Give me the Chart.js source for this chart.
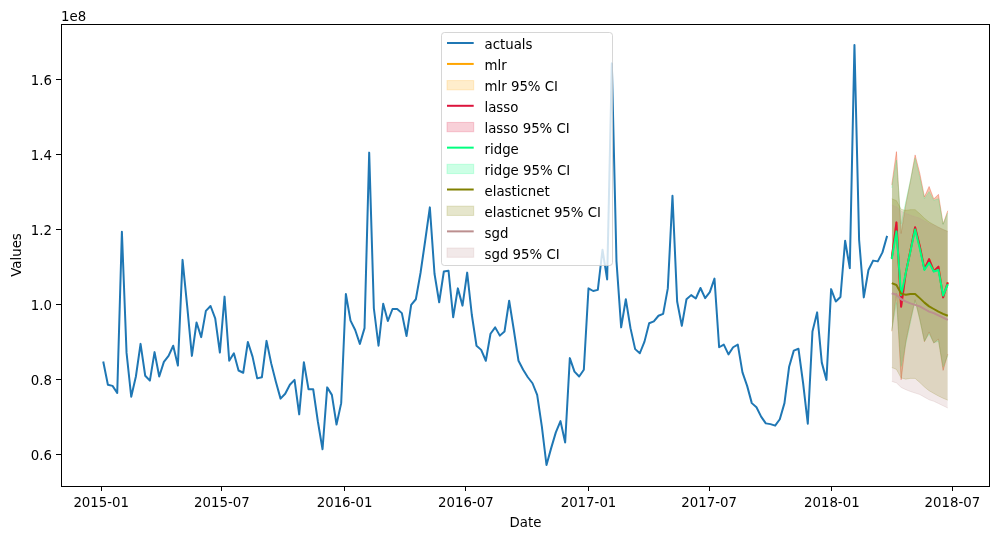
<!DOCTYPE html>
<html><head><meta charset="utf-8">
<script src="https://cdn.jsdelivr.net/npm/chart.js@4.4.1/dist/chart.umd.min.js"></script>
<style>html,body{margin:0;padding:0;background:#fff;}canvas{display:block;}</style>
</head><body>
<canvas id="c" width="1001" height="540"></canvas>
<script>
// ---- data (values in units of 1e8) ----
const actualStart = '2015-01-04';
const forecastStart = '2018-04-01';
const actuals = [
0.849, 0.787, 0.784, 0.765, 1.195, 0.872, 0.755, 0.809, 0.896, 0.811,
0.798, 0.874, 0.809, 0.848, 0.864, 0.891, 0.838, 1.120, 0.996, 0.864,
0.953, 0.914, 0.984, 0.997, 0.964, 0.873, 1.022, 0.851, 0.871, 0.825,
0.819, 0.901, 0.862, 0.804, 0.807, 0.904, 0.844, 0.795, 0.750, 0.763,
0.787, 0.800, 0.708, 0.847, 0.775, 0.775, 0.689, 0.615, 0.780, 0.760,
0.681, 0.738, 1.029, 0.958, 0.933, 0.896, 0.938, 1.406, 0.991, 0.891,
1.003, 0.957, 0.989, 0.989, 0.978, 0.917, 1.000, 1.015, 1.085, 1.171,
1.260, 1.083, 1.007, 1.089, 1.091, 0.967, 1.044, 0.998, 1.086, 0.973,
0.891, 0.880, 0.851, 0.923, 0.940, 0.918, 0.929, 1.011, 0.933, 0.851,
0.827, 0.807, 0.791, 0.760, 0.676, 0.573, 0.618, 0.660, 0.690, 0.633,
0.858, 0.822, 0.809, 0.827, 1.044, 1.037, 1.040, 1.147, 1.068, 1.644,
1.116, 0.940, 1.015, 0.938, 0.882, 0.871, 0.902, 0.951, 0.956, 0.971,
0.976, 1.044, 1.291, 1.009, 0.944, 1.015, 1.026, 1.017, 1.045, 1.018,
1.034, 1.070, 0.887, 0.894, 0.868, 0.887, 0.894, 0.820, 0.784, 0.738,
0.727, 0.702, 0.684, 0.682, 0.678, 0.695, 0.738, 0.835, 0.878, 0.883,
0.791, 0.683, 0.929, 0.980, 0.846, 0.800, 1.042, 1.009, 1.021, 1.171,
1.098, 1.693, 1.173, 1.020, 1.093, 1.118, 1.116, 1.140, 1.184
];
const mlr        = [1.124, 1.219, 0.996, 1.085, 1.145, 1.206, 1.156, 1.095, 1.121, 1.091, 1.101, 1.021, 1.060];
const mlrLower   = [0.929, 1.030, 0.801, 0.902, 0.960, 1.013, 0.962, 0.902, 0.927, 0.899, 0.908, 0.826, 0.869];
const mlrUpper   = [1.319, 1.408, 1.191, 1.268, 1.330, 1.399, 1.350, 1.288, 1.315, 1.283, 1.294, 1.216, 1.251];
const lasso      = [1.125, 1.220, 0.995, 1.085, 1.145, 1.207, 1.157, 1.095, 1.122, 1.090, 1.102, 1.020, 1.060];
const lassoLower = [0.930, 1.031, 0.800, 0.902, 0.960, 1.014, 0.963, 0.902, 0.928, 0.898, 0.909, 0.825, 0.869];
const lassoUpper = [1.320, 1.409, 1.190, 1.268, 1.330, 1.400, 1.351, 1.288, 1.316, 1.282, 1.295, 1.215, 1.251];
const ridge      = [1.122, 1.196, 1.026, 1.085, 1.143, 1.201, 1.150, 1.093, 1.112, 1.089, 1.093, 1.025, 1.055];
const ridgeLower = [0.932, 1.006, 0.836, 0.895, 0.953, 1.011, 0.960, 0.903, 0.922, 0.899, 0.903, 0.835, 0.865];
const ridgeUpper = [1.312, 1.386, 1.216, 1.275, 1.333, 1.391, 1.340, 1.283, 1.302, 1.279, 1.283, 1.215, 1.245];
const elasticnet      = [1.058, 1.053, 1.030, 1.027, 1.029, 1.029, 1.018, 1.006, 0.996, 0.989, 0.982, 0.976, 0.971];
const elasticnetLower = [0.833, 0.828, 0.805, 0.802, 0.804, 0.804, 0.793, 0.781, 0.771, 0.764, 0.757, 0.751, 0.746];
const elasticnetUpper = [1.283, 1.278, 1.255, 1.252, 1.254, 1.254, 1.243, 1.231, 1.221, 1.214, 1.207, 1.201, 1.196];
const sgd      = [1.031, 1.027, 1.015, 1.009, 1.004, 1.000, 0.996, 0.989, 0.982, 0.978, 0.972, 0.966, 0.960];
const sgdLower = [0.796, 0.792, 0.780, 0.774, 0.769, 0.765, 0.761, 0.754, 0.747, 0.743, 0.737, 0.731, 0.725];
const sgdUpper = [1.266, 1.262, 1.250, 1.244, 1.239, 1.235, 1.231, 1.224, 1.217, 1.213, 1.207, 1.201, 1.195];

const xTickLabels = ['2015-01', '2015-07', '2016-01', '2016-07', '2017-01', '2017-07', '2018-01', '2018-07'];
const yTickValues = [0.6, 0.8, 1.0, 1.2, 1.4, 1.6];
const yOffsetLabel = '1e8';
const xTitle = 'Date';
const yTitle = 'Values';

// ---- helpers ----
const DAY = 86400000;
const ORIGIN = Date.UTC(2015, 0, 1);
function dayOf(str) { const p = str.split('-').map(Number); return (Date.UTC(p[0], p[1] - 1, p[2] || 1) - ORIGIN) / DAY; }
function weekly(start, n) { const d0 = dayOf(start); return Array.from({length: n}, (_, i) => d0 + 7 * i); }
const actualX = weekly(actualStart, actuals.length);
const fcX = weekly(forecastStart, mlr.length);
const pts = (xs, ys) => ys.map((v, i) => ({x: xs[i], y: v}));
const rgba = (c, a) => `rgba(${c[0]},${c[1]},${c[2]},${a})`;
const xTickDays = xTickLabels.map(dayOf);

const models = [
  {name: 'mlr', color: [255, 165, 0], mean: mlr, lo: mlrLower, hi: mlrUpper},
  {name: 'lasso', color: [220, 20, 60], mean: lasso, lo: lassoLower, hi: lassoUpper},
  {name: 'ridge', color: [0, 255, 127], mean: ridge, lo: ridgeLower, hi: ridgeUpper},
  {name: 'elasticnet', color: [128, 128, 0], mean: elasticnet, lo: elasticnetLower, hi: elasticnetUpper},
  {name: 'sgd', color: [188, 143, 143], mean: sgd, lo: sgdLower, hi: sgdUpper}
];

// Chart.js draws higher "order" first: CI bands first (mlr bottom .. sgd top), then lines.
const datasets = [{
  label: 'actuals', data: pts(actualX, actuals),
  borderColor: '#1f77b4', borderWidth: 2, pointRadius: 0, tension: 0, fill: false, order: 10
}];
const legendItems = [{label: 'actuals', type: 'line', color: '#1f77b4'}];
models.forEach((m, k) => {
  datasets.push({
    label: m.name, data: pts(fcX, m.mean), borderColor: rgba(m.color, 1), borderWidth: 2,
    pointRadius: 0, tension: 0, fill: false, order: 9 - k
  });
  const upIdx = datasets.length;
  datasets.push({
    label: m.name + ' upper', data: pts(fcX, m.hi), borderColor: rgba(m.color, 0.2), borderWidth: 1,
    pointRadius: 0, tension: 0, fill: false, order: 50 - k
  });
  datasets.push({
    label: m.name + ' 95% CI', data: pts(fcX, m.lo), borderColor: rgba(m.color, 0.2), borderWidth: 1,
    backgroundColor: rgba(m.color, 0.2), pointRadius: 0, tension: 0, fill: {target: upIdx}, order: 50 - k
  });
  legendItems.push({label: m.name, type: 'line', color: rgba(m.color, 1)});
  legendItems.push({label: m.name + ' 95% CI', type: 'patch', color: rgba(m.color, 0.2)});
});

// autoscale with 5% margins like matplotlib
const allX = actualX.concat(fcX);
const allY = actuals.concat(...models.map(m => m.lo), ...models.map(m => m.hi), ...models.map(m => m.mean));
const xMin0 = Math.min(...allX), xMax0 = Math.max(...allX);
const yMin0 = Math.min(...allY), yMax0 = Math.max(...allY);
const xPad = (xMax0 - xMin0) * 0.05, yPad = (yMax0 - yMin0) * 0.05;

const FONT = {family: '"DejaVu Sans", sans-serif', size: 13.33, lineHeight: 1.2};
const FONTSTR = '13.33px "DejaVu Sans", sans-serif';

const decor = {
  id: 'decor',
  afterDraw(chart) {
    const ctx = chart.ctx, a = chart.chartArea;
    ctx.save();
    // spines
    ctx.strokeStyle = '#000'; ctx.lineWidth = 1;
    ctx.strokeRect(Math.round(a.left) + 0.5, Math.round(a.top) + 0.5,
                   Math.round(a.right - a.left) - 1, Math.round(a.bottom - a.top));
    // offset text
    ctx.fillStyle = '#000'; ctx.font = FONTSTR; ctx.textAlign = 'left'; ctx.textBaseline = 'alphabetic';
    ctx.fillText(yOffsetLabel, a.left, a.top - 3);
    // legend
    const L = 441.5, T = 32.5, R = 612.5, B = 265.5, r = 3;
    ctx.beginPath();
    ctx.moveTo(L + r, T); ctx.lineTo(R - r, T); ctx.quadraticCurveTo(R, T, R, T + r);
    ctx.lineTo(R, B - r); ctx.quadraticCurveTo(R, B, R - r, B);
    ctx.lineTo(L + r, B); ctx.quadraticCurveTo(L, B, L, B - r);
    ctx.lineTo(L, T + r); ctx.quadraticCurveTo(L, T, L + r, T); ctx.closePath();
    ctx.fillStyle = 'rgba(255,255,255,0.8)'; ctx.fill();
    ctx.strokeStyle = 'rgba(204,204,204,0.8)'; ctx.lineWidth = 1; ctx.stroke();
    const hx0 = 447, hx1 = 473.7, tx = 484.5, y0 = 44, dy = 20.93;
    legendItems.forEach((it, i) => {
      const y = y0 + dy * i;
      if (it.type === 'line') {
        ctx.beginPath(); ctx.moveTo(hx0, y - 1); ctx.lineTo(hx1, y - 1);
        ctx.strokeStyle = it.color; ctx.lineWidth = 2; ctx.stroke();
      } else {
        ctx.fillStyle = it.color; ctx.fillRect(hx0, y - 5.3, hx1 - hx0, 9.3);
        ctx.strokeStyle = it.color; ctx.lineWidth = 1; ctx.strokeRect(hx0, y - 5.3, hx1 - hx0, 9.3);
      }
      ctx.fillStyle = '#000'; ctx.font = FONTSTR; ctx.textAlign = 'left'; ctx.textBaseline = 'middle';
      ctx.fillText(it.label, tx, y + 2);
    });
    ctx.restore();
  }
};

new Chart(document.getElementById('c'), {
  type: 'line',
  data: {datasets},
  plugins: [decor],
  options: {
    responsive: false, animation: false, devicePixelRatio: 1,
    layout: {padding: {left: 0, top: 24, right: 11, bottom: 0}},
    plugins: {legend: {display: false}, tooltip: {enabled: false}},
    elements: {line: {borderJoinStyle: 'round', borderCapStyle: 'butt'}},
    scales: {
      x: {
        type: 'linear', min: xMin0 - xPad, max: xMax0 + xPad,
        afterBuildTicks: s => { s.ticks = xTickDays.map(v => ({value: v})); },
        afterFit: s => { s.height = 54; },
        ticks: {autoSkip: false, maxRotation: 0, minRotation: 0, color: '#000', font: FONT, padding: 5,
                callback: (v, i) => xTickLabels[i]},
        grid: {drawOnChartArea: false, drawTicks: true, tickLength: 5, tickColor: '#000', tickWidth: 1},
        border: {display: false},
        title: {display: true, text: xTitle, color: '#000', font: FONT, padding: {top: 0, bottom: 8}}
      },
      y: {
        type: 'linear', min: yMin0 - yPad, max: yMax0 + yPad,
        afterBuildTicks: s => { s.ticks = yTickValues.map(v => ({value: v})); },
        afterFit: s => { s.width = 61; },
        ticks: {color: '#000', font: FONT, padding: 4, labelOffset: 2, callback: v => Number(v).toFixed(1)},
        grid: {drawOnChartArea: false, drawTicks: true, tickLength: 5, tickColor: '#000', tickWidth: 1},
        border: {display: false},
        title: {display: true, text: yTitle, color: '#000', font: FONT, padding: {top: 10, bottom: 0}}
      }
    }
  }
});
</script>
</body></html>
